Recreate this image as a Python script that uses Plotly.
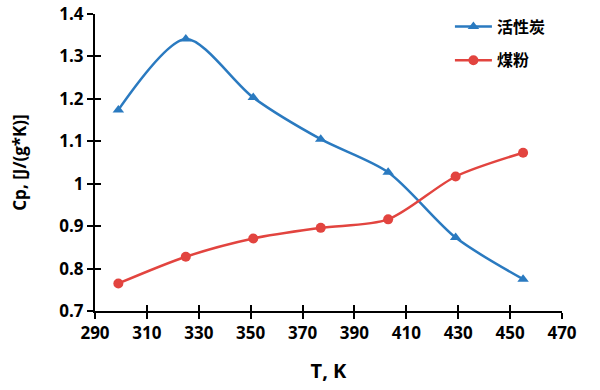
import plotly.graph_objects as go

T = [299, 325, 351, 377, 403, 429, 455]
cp_carbon = [1.174, 1.341, 1.203, 1.105, 1.027, 0.873, 0.775]
cp_coal = [0.765, 0.828, 0.871, 0.896, 0.916, 1.017, 1.073]
name_carbon = "活性炭"
name_coal = "煤粉"
x_ticks = list(range(290, 471, 20))
y_ticks = [0.7, 0.8, 0.9, 1.0, 1.1, 1.2, 1.3, 1.4]
y_tick_text = ["0.7", "0.8", "0.9", "1", "1.1", "1.2", "1.3", "1.4"]

blue = "#2A7AC0"
red = "#E2443F"

fig = go.Figure()
fig.add_trace(go.Scatter(x=T, y=cp_carbon, name="<b>" + name_carbon + "</b>", mode="lines+markers",
                         line=dict(color=blue, width=2.5, shape="spline", smoothing=0.8),
                         marker=dict(symbol="triangle-up", size=10, color=blue),
                         legendgroup="a"))
fig.add_trace(go.Scatter(x=T, y=cp_coal, name="<b>" + name_coal + "</b>", mode="lines+markers",
                         line=dict(color=red, width=2.5, shape="spline", smoothing=0.8),
                         marker=dict(symbol="circle", size=10, color=red),
                         legendgroup="b"))
# invisible trace to attach overlay axes (for crossing ticks)
fig.add_trace(go.Scatter(x=[290], y=[0.7], xaxis="x2", yaxis="y2", mode="markers",
                         marker=dict(opacity=0), showlegend=False, hoverinfo="skip"))

fam = "Open Sans, Liberation Sans, Arial"
tickfont = dict(family=fam, size=17, color="black")
fig.update_layout(
    width=600, height=390,
    margin=dict(l=95, r=38, t=14, b=79, autoexpand=False),
    plot_bgcolor="white", paper_bgcolor="white",
    xaxis=dict(range=[290, 470], tickvals=x_ticks, ticktext=[f"<b>{t}</b>" for t in x_ticks],
               ticks="outside", ticklen=6, tickwidth=2,
               tickcolor="black", showline=True, linecolor="black", linewidth=2,
               showgrid=False, zeroline=False, tickfont=tickfont, automargin=False,
               title=dict(text="<b>T, K</b>", font=dict(family=fam, size=20, color="black"), standoff=21)),
    yaxis=dict(range=[0.7, 1.4], tickvals=y_ticks, ticktext=[f"<b>{t}</b>" for t in y_tick_text],
               ticks="outside", ticklen=6, tickwidth=2,
               tickcolor="black", showline=True, linecolor="black", linewidth=2,
               showgrid=False, zeroline=False, tickfont=tickfont, automargin=False,
               title=dict(text="<b>Cp, [J/(g*K)]</b>", font=dict(family=fam, size=17, color="black"), standoff=28)),
    xaxis2=dict(range=[290, 470], tickvals=x_ticks, ticks="inside", ticklen=6, tickwidth=2,
                tickcolor="black", overlaying="x", side="bottom", showticklabels=False,
                showgrid=False, zeroline=False, showline=False, automargin=False),
    yaxis2=dict(range=[0.7, 1.4], tickvals=y_ticks, ticks="inside", ticklen=6, tickwidth=2,
                tickcolor="black", overlaying="y", side="left", showticklabels=False,
                showgrid=False, zeroline=False, showline=False, automargin=False),
    legend=dict(x=0.76, y=1.015, xanchor="left", yanchor="top", traceorder="grouped",
                tracegroupgap=10, bgcolor="rgba(0,0,0,0)", itemwidth=37,
                font=dict(family="Noto Sans CJK SC", size=16, color="black")),
)
fig.write_html("out.html", config={"displayModeBar": False},
               post_script="document.body.style.margin='0';")
